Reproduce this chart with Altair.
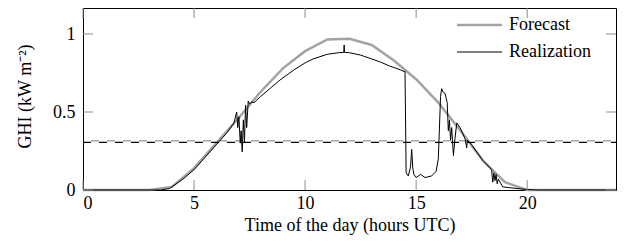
import altair as alt
import pandas as pd

# ---- data ----
fc_time = list(range(25))
fc_ghi = [0, 0, 0, 0, 0.02, 0.14, 0.30, 0.46, 0.63, 0.78, 0.89, 0.965, 0.97,
          0.93, 0.83, 0.71, 0.56, 0.38, 0.19, 0.05, 0.0, 0, 0, 0, 0]

re_time = [0, 3.5, 3.9, 4.0, 4.5, 5.0, 5.5, 6.0, 6.5, 6.8, 6.92, 6.97, 7.02, 7.08,
           7.12, 7.17, 7.22, 7.27, 7.32, 7.37, 7.44, 7.5, 7.6, 7.7, 8.0, 8.5, 8.87,
           9.5, 10.0, 10.36, 11.0, 11.5, 11.74, 11.76, 11.78, 12.0, 12.5, 13.0, 13.4,
           13.8, 14.0, 14.3, 14.45, 14.5, 14.55, 14.65, 14.75, 14.8, 14.85, 14.9,
           15.0, 15.2, 15.4, 15.7, 15.9, 16.0, 16.1, 16.15, 16.2, 16.3, 16.35, 16.4,
           16.45, 16.5, 16.55, 16.6, 16.68, 16.75, 16.83, 16.98, 17.2, 17.28, 17.3,
           17.5, 18.0, 18.4, 18.45, 18.5, 18.55, 18.6, 18.65, 18.7, 18.9, 19.5, 20.0,
           20.5, 24.0]
re_ghi = [0, 0, 0.01, 0.02, 0.07, 0.13, 0.21, 0.29, 0.37, 0.43, 0.50, 0.40, 0.47, 0.30,
          0.38, 0.245, 0.45, 0.31, 0.545, 0.40, 0.57, 0.55, 0.565, 0.56, 0.60, 0.66, 0.705,
          0.77, 0.815, 0.84, 0.87, 0.88, 0.882, 0.93, 0.882, 0.88, 0.865, 0.84, 0.82,
          0.795, 0.785, 0.77, 0.76, 0.76, 0.11, 0.09, 0.15, 0.26, 0.14, 0.10,
          0.08, 0.10, 0.08, 0.09, 0.12, 0.20, 0.60, 0.65, 0.63, 0.62, 0.59, 0.56,
          0.38, 0.45, 0.32, 0.40, 0.22, 0.33, 0.43, 0.40, 0.33, 0.27, 0.32,
          0.29, 0.19, 0.13, 0.05, 0.11, 0.06, 0.10, 0.04, 0.07, 0.02, 0.01, 0.003,
          0, 0]

thr_forecast = [0.315]
thr_real = [0.305]
x_ticks = [0, 5, 10, 15, 20]
y_ticks = [0, 0.5, 1]
series_names = ["Forecast", "Realization"]

GRAY = "#a3a3a3"
FONT = "Liberation Serif"
W, H = 533, 182

fc_df = pd.DataFrame({"t": fc_time, "g": fc_ghi})
re_df = pd.DataFrame({"t": re_time, "g": re_ghi})

xs = alt.Scale(domain=[0, 24], nice=False)
ys = alt.Scale(domain=[0, 1.1667], nice=False)

x_axis = alt.Axis(values=x_ticks, tickSize=0, domain=False, grid=False, format="~g",
                  labelFont=FONT, labelFontSize=18, labelColor="black", labelPadding=4,
                  title="Time of the day (hours UTC)", titleFont=FONT, titleFontSize=18,
                  titleFontWeight="normal", titleColor="black",
                  titleX=W / 2, titleY=40, titleBaseline="alphabetic")
y_axis = alt.Axis(values=y_ticks, tickSize=0, domain=False, grid=False, format="~g",
                  labelFont=FONT, labelFontSize=18, labelColor="black", labelPadding=8,
                  title="GHI (kW m⁻²)", titleFont=FONT, titleFontSize=18,
                  titleFontWeight="normal", titleColor="black", titleAngle=270,
                  titleX=-58, titleY=88, titleBaseline="middle", titleAlign="center")

X = alt.X("t:Q", scale=xs, axis=x_axis, title="Time of the day (hours UTC)")
Y = alt.Y("g:Q", scale=ys, axis=y_axis, title="GHI (kW m⁻²)")

forecast = alt.Chart(fc_df).mark_line(color=GRAY, strokeWidth=2.5).encode(x=X, y=Y)
real = alt.Chart(re_df).mark_line(color="black", strokeWidth=1).encode(x=X, y=Y)

thr_g = alt.Chart(pd.DataFrame({"g": thr_forecast})).mark_rule(
    color=GRAY, strokeWidth=1.5, strokeDash=[8, 8], strokeDashOffset=8).encode(
    y=Y, x=alt.value(0), x2=alt.value(W))
thr_b = alt.Chart(pd.DataFrame({"g": thr_real})).mark_rule(
    color="black", strokeWidth=1.2, strokeDash=[8, 8]).encode(
    y=Y, x=alt.value(0), x2=alt.value(W))

xt = pd.DataFrame({"t": x_ticks})
yt = pd.DataFrame({"g": y_ticks})
TICK = "#8c8c8c"
xtick_b = alt.Chart(xt).mark_rule(color=TICK, strokeWidth=1).encode(
    x=X, y=alt.value(H), y2=alt.value(H - 10))
xtick_t = alt.Chart(xt).mark_rule(color=TICK, strokeWidth=1).encode(
    x=X, y=alt.value(0), y2=alt.value(10))
ytick_l = alt.Chart(yt).mark_rule(color=TICK, strokeWidth=1).encode(
    y=Y, x=alt.value(0), x2=alt.value(10))
ytick_r = alt.Chart(yt).mark_rule(color=TICK, strokeWidth=1).encode(
    y=Y, x=alt.value(W - 10), x2=alt.value(W))

one = pd.DataFrame({"a": [0]})
leg_layers = []
for i, (name, col, sw) in enumerate(zip(series_names, [GRAY, "black"], [2.5, 1.2])):
    yy = 17 + 27 * i
    leg_layers.append(alt.Chart(one).mark_rule(color=col, strokeWidth=sw).encode(
        x=alt.value(374), x2=alt.value(419), y=alt.value(yy)))
    leg_layers.append(alt.Chart(one).mark_text(
        text=name, font=FONT, fontSize=18, color="black", align="left",
        baseline="middle").encode(x=alt.value(426), y=alt.value(yy)))

chart = alt.layer(
    forecast, thr_b, thr_g, real, xtick_b, xtick_t, ytick_l, ytick_r, *leg_layers
).properties(
    width=W, height=H, autosize="none",
    padding={"left": 75, "top": 0, "right": 2, "bottom": 45},
).configure_view(stroke="black", strokeWidth=1)

chart.save("out.html", embed_options={"renderer": "svg", "actions": False})
